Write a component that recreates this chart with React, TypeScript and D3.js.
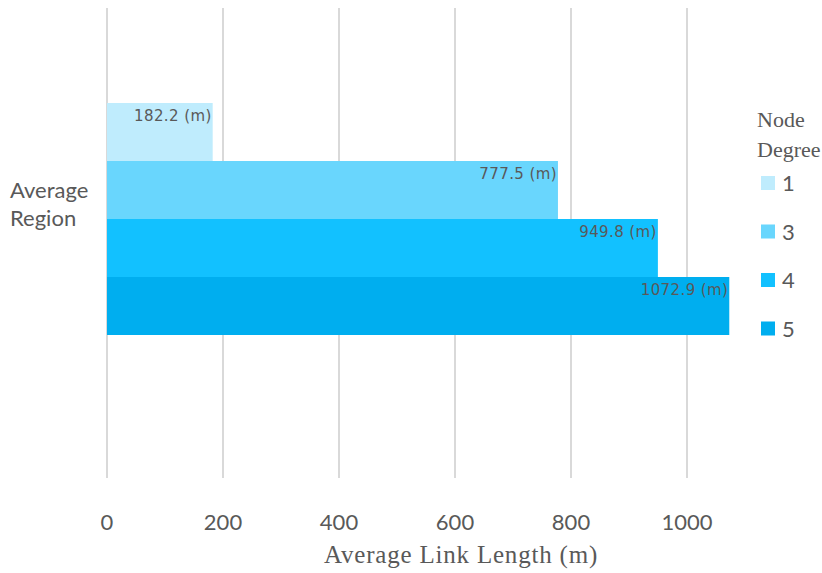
import React from "react";
import * as d3 from "d3";

const categories = ["Average Region"];
const seriesNames = ["1", "3", "4", "5"];
const seriesValues = [182.2, 777.5, 949.8, 1072.9];
const tickValues = [0, 200, 400, 600, 800, 1000];
const colors = ["#BFECFD", "#69D6FD", "#12C1FF", "#00AEEF"];

export default function App() {
  const W = 822, H = 573;
  const x = d3.scaleLinear().domain([0, 1000]).range([107, 687]);
  const yCat = d3.scaleBand().domain(categories).range([8, 478]);
  const ySer = d3.scaleBand().domain(seriesNames).range([103, 335]).padding(0);
  const gray = "#595959";
  return (
    <svg width={W} height={H} style={{ position: "absolute", left: 0, top: 0 }}>
      <rect width={W} height={H} fill="#fff" />
      {tickValues.map((t) => (
        <line key={t} x1={x(t)} x2={x(t)} y1={8} y2={478} stroke="#d9d9d9" strokeWidth={2} />
      ))}
      {seriesNames.map((s, i) => (
        <rect key={s} x={x(0)} y={ySer(s)} width={x(seriesValues[i]) - x(0)} height={ySer.bandwidth()} fill={colors[i]} />
      ))}
      {seriesNames.map((s, i) => (
        <text key={s} x={x(seriesValues[i]) - 1} y={(ySer(s) as number) + 18} textAnchor="end"
          fontFamily="'DejaVu Sans', sans-serif" fontSize={15} letterSpacing={0.4} fill={gray}>
          {seriesValues[i].toFixed(1)} (m)
        </text>
      ))}
      {categories.map((c) => (
        <text key={c} x={10} y={(yCat(c) as number) + yCat.bandwidth() / 2 - 45} fontFamily="Lato, sans-serif" fontSize={22} fill={gray}>
          {c.split(" ").map((w, k) => (
            <tspan key={k} x={10} dy={k === 0 ? 0 : 28}>{w}</tspan>
          ))}
        </text>
      ))}
      {tickValues.map((t) => (
        <text key={t} x={x(t)} y={530} textAnchor="middle" fontFamily="Lato, sans-serif" fontSize={22} fill={gray}>
          {t}
        </text>
      ))}
      <text x={461} y={563} textAnchor="middle" fontFamily="'Liberation Serif', serif" fontSize={25} letterSpacing={0.8} fill={gray}>
        Average Link Length (m)
      </text>
      <text x={757} y={127} fontFamily="'Liberation Serif', serif" fontSize={22} fill={gray}>Node</text>
      <text x={757} y={157} fontFamily="'Liberation Serif', serif" fontSize={22} fill={gray}>Degree</text>
      {seriesNames.map((s, i) => (
        <g key={s} transform={`translate(761, ${183 + i * 48.5})`}>
          <rect x={0} y={-7} width={14} height={14} fill={colors[i]} />
          <text x={21} y={8} fontFamily="Lato, sans-serif" fontSize={22} fill={gray}>{s}</text>
        </g>
      ))}
    </svg>
  );
}
